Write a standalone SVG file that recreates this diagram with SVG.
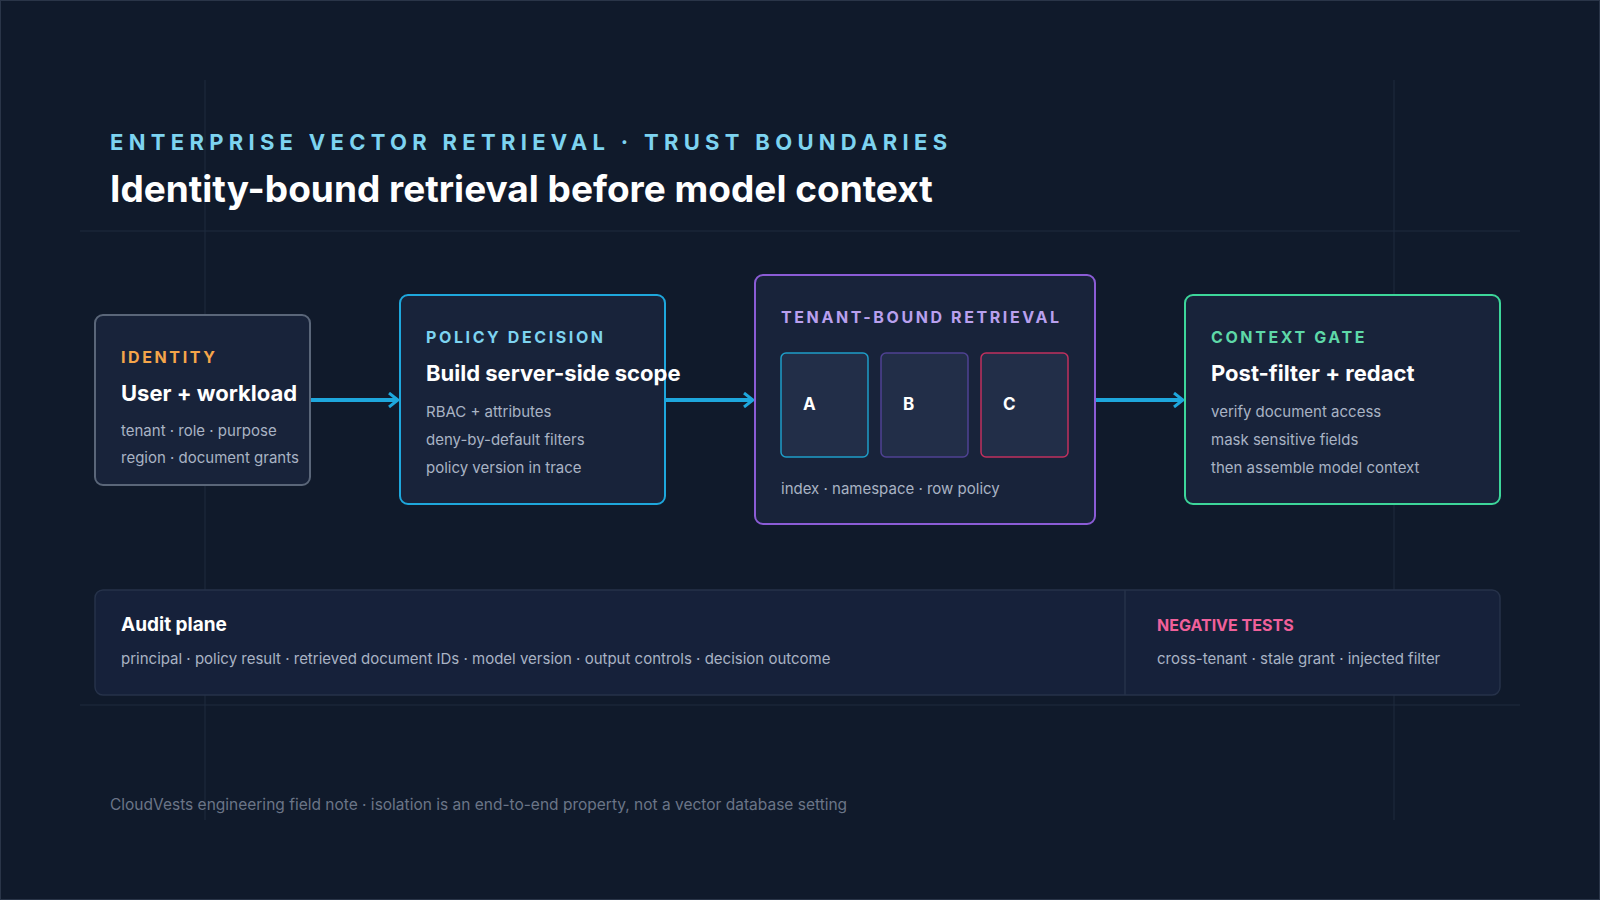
<svg xmlns="http://www.w3.org/2000/svg" width="1600" height="900" viewBox="0 0 1600 900">
<defs>
<style>
text{font-family:Inter,"Liberation Sans",sans-serif}
.card{fill:#18233a;stroke-width:2}
.lab{font-size:16px;font-weight:700;letter-spacing:2.6px}
.ttl{font-size:22px;font-weight:700;fill:#ffffff}
.sub{font-size:15px;fill:#a9b3c4}
.grid{stroke:#1e2a3e;stroke-width:1}
.conn{stroke:#1ea7dc;stroke-width:4;fill:none}
</style>
<marker id="ah" viewBox="0 0 12 16" refX="10" refY="8" markerWidth="12" markerHeight="16" markerUnits="userSpaceOnUse" orient="auto"><path d="M1 1 L10 8 L1 15" fill="none" stroke="#1ea7dc" stroke-width="3"/></marker>
</defs>
<rect width="1600" height="900" fill="#101a2b"/>
<rect x="0.5" y="0.5" width="1599" height="899" fill="none" stroke="#2a3548"/>
<g id="grid">
<line class="grid" x1="80" y1="231" x2="1520" y2="231"/>
<line class="grid" x1="80" y1="705" x2="1520" y2="705"/>
<line class="grid" x1="205" y1="80" x2="205" y2="820"/>
<line class="grid" x1="1394" y1="80" x2="1394" y2="820"/>
</g>
<g id="header">
<text x="110" y="150" font-size="22" font-weight="700" fill="#7dd3f0" letter-spacing="5.3">ENTERPRISE VECTOR RETRIEVAL · TRUST BOUNDARIES</text>
<text x="110" y="202" font-size="37" font-weight="700" fill="#ffffff">Identity-bound retrieval before model context</text>
</g>
<g id="connectors">
<line class="conn" x1="310" y1="400" x2="398" y2="400" marker-end="url(#ah)"/>
<line class="conn" x1="665" y1="400" x2="753" y2="400" marker-end="url(#ah)"/>
<line class="conn" x1="1095" y1="400" x2="1183" y2="400" marker-end="url(#ah)"/>
</g>
<g id="identity">
<rect class="card" x="95" y="315" width="215" height="170" rx="8" stroke="#5a6679"/>
<text class="lab" x="121" y="363" fill="#f5a54a">IDENTITY</text>
<text class="ttl" x="121" y="401">User + workload</text>
<text class="sub" x="121" y="436">tenant · role · purpose</text>
<text class="sub" x="121" y="463">region · document grants</text>
</g>
<g id="policy">
<rect class="card" x="400" y="295" width="265" height="209" rx="8" stroke="#1ea7dc"/>
<text class="lab" x="426" y="343" fill="#7dd3f0">POLICY DECISION</text>
<text class="ttl" x="426" y="381">Build server-side scope</text>
<text class="sub" x="426" y="417">RBAC + attributes</text>
<text class="sub" x="426" y="445">deny-by-default filters</text>
<text class="sub" x="426" y="473">policy version in trace</text>
</g>
<g id="tenant">
<rect class="card" x="755" y="275" width="340" height="249" rx="8" stroke="#8b5cd6"/>
<text class="lab" x="781" y="323" fill="#b9a0ee">TENANT-BOUND RETRIEVAL</text>
<rect x="781" y="353" width="87" height="104" rx="5" fill="#222e48" stroke="#1e9dc8" stroke-width="1.5"/>
<rect x="881" y="353" width="87" height="104" rx="5" fill="#222e48" stroke="#4f4292" stroke-width="1.5"/>
<rect x="981" y="353" width="87" height="104" rx="5" fill="#222e48" stroke="#c0305e" stroke-width="1.5"/>
<text x="803" y="410" font-size="17" font-weight="700" fill="#fff">A</text>
<text x="903" y="410" font-size="17" font-weight="700" fill="#fff">B</text>
<text x="1003" y="410" font-size="17" font-weight="700" fill="#fff">C</text>
<text class="sub" x="781" y="494">index · namespace · row policy</text>
</g>
<g id="context">
<rect class="card" x="1185" y="295" width="315" height="209" rx="8" stroke="#3dd69a"/>
<text class="lab" x="1211" y="343" fill="#5ed8a8">CONTEXT GATE</text>
<text class="ttl" x="1211" y="381">Post-filter + redact</text>
<text class="sub" x="1211" y="417">verify document access</text>
<text class="sub" x="1211" y="445">mask sensitive fields</text>
<text class="sub" x="1211" y="473">then assemble model context</text>
</g>
<g id="audit">
<rect x="95" y="590" width="1405" height="105" rx="8" fill="#16213a" stroke="#26324a" stroke-width="1.5"/>
<line x1="1125" y1="590" x2="1125" y2="695" stroke="#26324a" stroke-width="1.5"/>
<text x="121" y="631" font-size="19" font-weight="700" fill="#fff">Audit plane</text>
<text class="sub" x="121" y="664">principal · policy result · retrieved document IDs · model version · output controls · decision outcome</text>
<text x="1157" y="631" font-size="16" font-weight="700" fill="#f0609a">NEGATIVE TESTS</text>
<text class="sub" x="1157" y="664">cross-tenant · stale grant · injected filter</text>
</g>
<text x="110" y="810" font-size="15.5" fill="#6b7587">CloudVests engineering field note · isolation is an end-to-end property, not a vector database setting</text>
</svg>
